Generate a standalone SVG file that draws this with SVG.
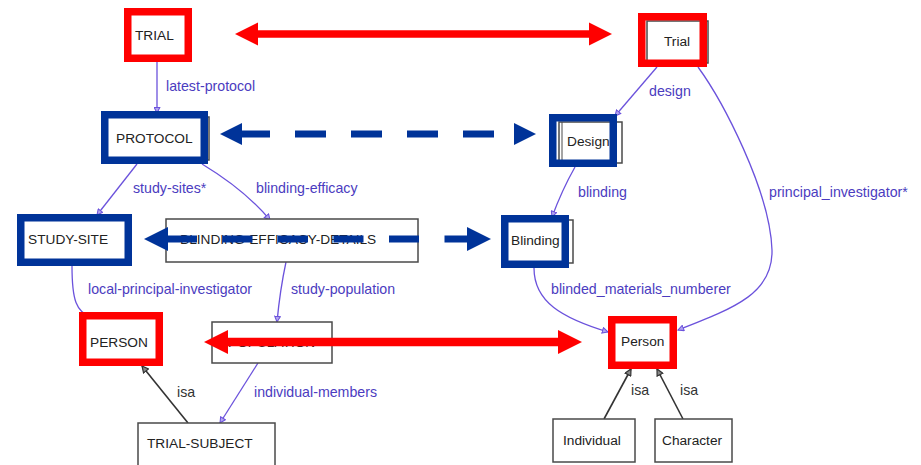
<svg xmlns="http://www.w3.org/2000/svg" width="921" height="465" viewBox="0 0 921 465">
  <style>
    .node { fill: #ffffff; stroke: #4a4a4a; stroke-width: 1.5; }
    .ntext { font-family: "Liberation Sans", Arial, sans-serif; font-size: 13.7px; fill: #222222; }
    .label { font-family: "Liberation Sans", Arial, sans-serif; font-size: 14.2px; fill: #4b3cc0; }
    .isa { font-family: "Liberation Sans", Arial, sans-serif; font-size: 14.2px; fill: #333333; }
    .edge { fill: none; stroke: #6b52dc; stroke-width: 1.3; marker-end: url(#slot); }
    .isaedge { fill: none; stroke: #333333; stroke-width: 1.6; marker-end: url(#isahead); }
    .hlred { fill: none; stroke: #ff0000; stroke-width: 7.5; }
    .hlblue { fill: none; stroke: #003399; stroke-width: 7.5; }
    .redline { stroke: #ff0000; stroke-width: 7.5; }
    .blueline { stroke: #003399; stroke-width: 7; stroke-dasharray: 31 25; }
    .redhead { fill: #ff0000; }
    .bluehead { fill: #003399; }
  </style>
  <defs>
    <marker id="slot" viewBox="0 0 10 10" refX="9" refY="5" markerWidth="7" markerHeight="7" orient="auto" markerUnits="userSpaceOnUse">
      <path d="M1,1 L9,5 L1,9 Z" fill="#b3a6f0" stroke="#6b52dc" stroke-width="1.5"/>
    </marker>
    <marker id="isahead" viewBox="0 0 10 10" refX="9" refY="5" markerWidth="8" markerHeight="8" orient="auto" markerUnits="userSpaceOnUse">
      <path d="M1,1 L9,5 L1,9 Z" fill="#888888" stroke="#333333" stroke-width="1.5"/>
    </marker>
  </defs>
  <rect width="921" height="465" fill="#ffffff"/>

  <!-- relations between classes -->
  <g id="connectors">
    <path class="edge" d="M157,62 L157,113"/>
    <path class="edge" d="M137,164 L97,215"/>
    <path class="edge" d="M202,164 Q245,190 270,220"/>
    <path class="edge" d="M72,266 C72,300 76,312 92,318"/>
    <path class="edge" d="M286,262 Q280,290 277,322"/>
    <path class="edge" d="M258,363 L220,423"/>
    <path class="isaedge" d="M188,423 L142,366"/>
    <path class="edge" d="M657,67 L615,116"/>
    <path class="edge" d="M575,167 Q562,190 552,217"/>
    <path class="edge" d="M698,67 C722,100 770,190 772,250 C773,292 738,307 678,330"/>
    <path class="edge" d="M534,268 C534,302 562,318 608,332"/>
    <path class="isaedge" d="M604,419 L631,369"/>
    <path class="isaedge" d="M683,419 L657,369"/>
  </g>

  <g id="edge-labels">
    <text class="label" x="166" y="91">latest-protocol</text>
    <text class="label" x="133" y="193">study-sites*</text>
    <text class="label" x="256" y="193">blinding-efficacy</text>
    <text class="label" x="88" y="294">local-principal-investigator</text>
    <text class="label" x="291" y="294">study-population</text>
    <text class="label" x="254" y="397">individual-members</text>
    <text class="isa" x="177" y="397">isa</text>
    <text class="label" x="649" y="96">design</text>
    <text class="label" x="578" y="197">blinding</text>
    <text class="label" x="769" y="197">principal_investigator*</text>
    <text class="label" x="551" y="294">blinded_materials_numberer</text>
    <text class="isa" x="631" y="395">isa</text>
    <text class="isa" x="680" y="395">isa</text>
  </g>

  <!-- left ontology -->
  <g id="TRIAL">
    <rect class="node" x="128" y="12" width="60" height="46"/>
    <text class="ntext" x="135" y="40">TRIAL</text>
    <rect class="hlred" x="127.75" y="11.75" width="60.5" height="46.5"/>
  </g>
  <g id="PROTOCOL">
    <rect class="node" x="106" y="117" width="103" height="43"/>
    <text class="ntext" x="116" y="143">PROTOCOL</text>
    <rect class="hlblue" x="104.75" y="114.75" width="99.5" height="45.5"/>
  </g>
  <g id="STUDY-SITE">
    <rect class="node" x="20" y="218" width="108" height="44"/>
    <text class="ntext" x="28" y="244">STUDY-SITE</text>
    <rect class="hlblue" x="20.75" y="217.75" width="107.5" height="44.5"/>
  </g>
  <g id="BLINDING-EFFICACY-DETAILS">
    <rect class="node" x="166" y="219" width="252" height="43"/>
    <text class="ntext" x="180" y="244">BLINDING-EFFICACY-DETAILS</text>
  </g>
  <g id="PERSON">
    <rect class="node" x="83" y="316" width="76" height="46"/>
    <text class="ntext" x="90" y="347">PERSON</text>
    <rect class="hlred" x="82.75" y="315.75" width="76.5" height="46.5"/>
  </g>
  <g id="POPULATION">
    <rect class="node" x="212" y="322" width="120" height="41"/>
    <text class="ntext" x="228" y="347">POPULATION</text>
  </g>
  <g id="TRIAL-SUBJECT">
    <rect class="node" x="138" y="423" width="137" height="50"/>
    <text class="ntext" x="147" y="448">TRIAL-SUBJECT</text>
  </g>

  <!-- right ontology -->
  <g id="Trial">
    <rect class="node" x="647" y="21" width="61" height="42"/>
    <text class="ntext" x="664" y="46">Trial</text>
    <rect class="hlred" x="641.75" y="16.75" width="61.5" height="46.5"/>
  </g>
  <g id="Design">
    <rect class="node" x="559" y="122" width="63" height="41"/>
    <line x1="562" y1="122" x2="562" y2="163" stroke="#4a4a4a" stroke-width="1"/>
    <text class="ntext" x="567" y="146">Design</text>
    <rect class="hlblue" x="552.75" y="117.75" width="60.5" height="45.5"/>
  </g>
  <g id="Blinding">
    <rect class="node" x="507" y="220" width="66" height="43"/>
    <text class="ntext" x="511" y="245">Blinding</text>
    <rect class="hlblue" x="504.75" y="218.75" width="60.5" height="45.5"/>
  </g>
  <g id="Person">
    <rect class="node" x="612" y="320" width="61" height="45"/>
    <text class="ntext" x="621" y="346">Person</text>
    <rect class="hlred" x="611.75" y="319.75" width="61.5" height="45.5"/>
  </g>
  <g id="Individual">
    <rect class="node" x="553" y="419" width="82" height="43"/>
    <text class="ntext" x="563" y="445">Individual</text>
  </g>
  <g id="Character">
    <rect class="node" x="655" y="419" width="77" height="43"/>
    <text class="ntext" x="662" y="445">Character</text>
  </g>

  <!-- correspondences between the two ontologies -->
  <g id="mappings">
    <line class="redline" x1="256" y1="34" x2="591" y2="34"/>
    <polygon class="redhead" points="235,34 258,22.5 258,45.5"/>
    <polygon class="redhead" points="612,34 589,22.5 589,45.5"/>

    <line class="blueline" x1="239" y1="134" x2="513" y2="134"/>
    <polygon class="bluehead" points="220,134 242,123 242,145"/>
    <polygon class="bluehead" points="536,134 514,123 514,145"/>

    <line class="blueline" x1="167" y1="239" x2="467" y2="239" style="stroke-dasharray:30 25.5"/>
    <polygon class="bluehead" points="144,239 168,227 168,251"/>
    <polygon class="bluehead" points="491,239 467,227 467,251"/>

    <line class="redline" x1="226" y1="342" x2="560" y2="342" style="stroke-width:8.5"/>
    <polygon class="redhead" points="204,342 228,330 228,354"/>
    <polygon class="redhead" points="582,342 558,330 558,354"/>
  </g>
</svg>
